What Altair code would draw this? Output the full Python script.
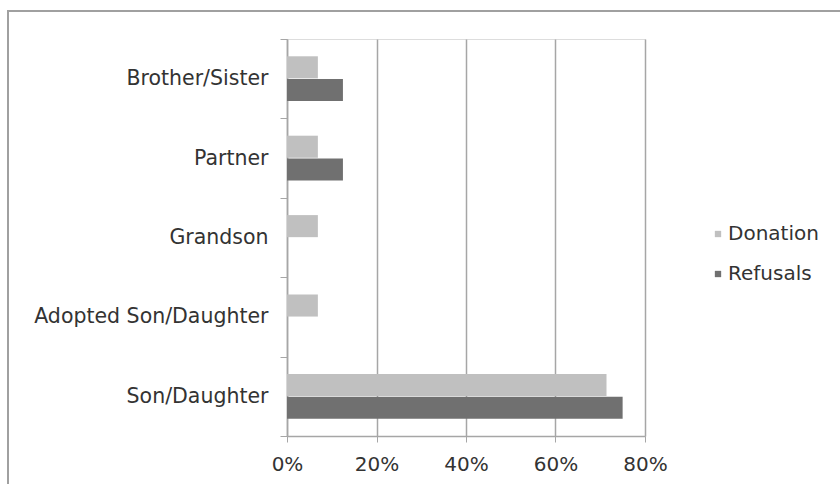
import altair as alt
import pandas as pd

categories = ["Brother/Sister", "Partner", "Grandson", "Adopted Son/Daughter", "Son/Daughter"]
series = ["Donation", "Refusals"]
donation = [0.069, 0.069, 0.069, 0.069, 0.714]
refusals = [0.125, 0.125, 0.0, 0.0, 0.750]
x_ticks = [0, 0.2, 0.4, 0.6, 0.8]
colors = ["#c0c0c0", "#707070"]

rows = []
for c, d, r in zip(categories, donation, refusals):
    rows.append({"category": c, "series": "Donation", "value": d})
    rows.append({"category": c, "series": "Refusals", "value": r})
df = pd.DataFrame(rows)

FONT = "DejaVu Sans"
TXT = "#333333"
LINE = "#a6a6a6"

bars = alt.Chart(df).mark_bar().encode(
    x=alt.X("value:Q",
            scale=alt.Scale(domain=[0, 0.8], nice=False),
            axis=alt.Axis(values=x_ticks, format=".0%", title=None,
                          grid=True, gridColor=LINE, gridWidth=1.5,
                          domainColor=LINE, domainWidth=1.5,
                          tickColor=LINE, tickSize=6, labelFlush=False,
                          labelFont=FONT, labelFontSize=20, labelColor=TXT,
                          labelPadding=12)),
    y=alt.Y("category:N", sort=categories,
            scale=alt.Scale(paddingInner=0, paddingOuter=0),
            axis=alt.Axis(title=None, tickBand="extent", grid=False,
                          domainColor=LINE, domainWidth=1.5,
                          tickColor=LINE, tickSize=7, labelLimit=400,
                          labelFont=FONT, labelFontSize=20.5, labelColor=TXT,
                          labelPadding=12)),
    yOffset=alt.YOffset("series:N", sort=series,
                        scale=alt.Scale(paddingInner=0.03, paddingOuter=0.76)),
    color=alt.Color("series:N", sort=series,
                    scale=alt.Scale(domain=series, range=colors),
                    legend=alt.Legend(title=None, orient="none", legendX=421, legendY=185,
                                      symbolType="square", symbolSize=40,
                                      symbolStrokeWidth=0,
                                      labelFont=FONT, labelFontSize=20, labelColor=TXT,
                                      labelOffset=0, rowPadding=20)),
)

frame = alt.Chart(df).mark_rect(fill=None, stroke="#a0a0a0", strokeWidth=1.5, clip=False).encode(
    x=alt.value(-279), x2=alt.value(700), y=alt.value(-28), y2=alt.value(600)
)

chart = alt.layer(frame, bars).properties(
    width=358, height=397,
    autosize=alt.AutoSizeParams(type="none"),
    padding={"left": 287, "top": 39, "right": 195, "bottom": 48},
).configure_view(stroke=None).configure(background="white")

chart.save("out.html", embed_options={"renderer": "svg", "actions": False})
